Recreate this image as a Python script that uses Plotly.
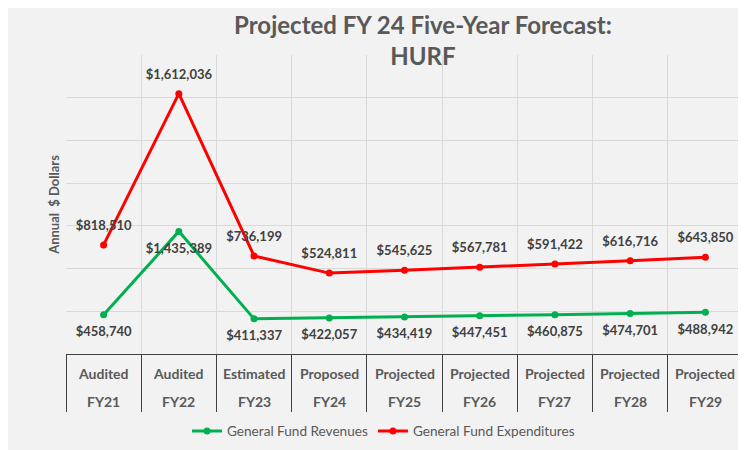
import plotly.graph_objects as go

# ---- data ----
fiscal_years = ["FY21", "FY22", "FY23", "FY24", "FY25", "FY26", "FY27", "FY28", "FY29"]
year_types = ["Audited", "Audited", "Estimated", "Proposed", "Projected",
              "Projected", "Projected", "Projected", "Projected"]
revenues = [458740, 1435389, 411337, 422057, 434419, 447451, 460875, 474701, 488942]
expenditures = [818510, 1612036, 736199, 524811, 545625, 567781, 591422, 616716, 643850]

FONT = "Lato"
GRAY = "#595959"
LABEL = "#404040"
GREEN = "#00B050"
RED = "#FF0000"

fig = go.Figure()
# stacked lines (Excel "stacked line" chart)
for name, vals, col in [("General Fund Revenues", revenues, GREEN),
                        ("General Fund Expenditures", expenditures, RED)]:
    fig.add_trace(go.Scatter(
        x=fiscal_years, y=vals, name=name, mode="lines+markers",
        stackgroup="lines", fill="none",
        line=dict(color=col, width=3), marker=dict(size=7, color=col),
    ))
# data labels: same stacking, invisible larger markers give the label offset
for vals, pos in [(revenues, "bottom center"), (expenditures, "top center")]:
    fig.add_trace(go.Scatter(
        x=fiscal_years, y=vals, mode="markers+text", stackgroup="labels", fill="none",
        marker=dict(size=17, color="rgba(0,0,0,0)"), showlegend=False, hoverinfo="skip",
        text=[f"${v:,}" for v in vals], textposition=pos,
        textfont=dict(family=FONT, size=13, color=LABEL, weight="bold"),
    ))

# two-row category labels under the axis
for fy, tp in zip(fiscal_years, year_types):
    fig.add_annotation(x=fy, y=0, xref="x", yref="paper", text=tp, showarrow=False,
                       yanchor="middle", yshift=-19,
                       font=dict(family=FONT, size=14, color=GRAY, weight="bold"))
    fig.add_annotation(x=fy, y=0, xref="x", yref="paper", text=fy, showarrow=False,
                       yanchor="middle", yshift=-47,
                       font=dict(family=FONT, size=14, color=GRAY, weight="bold"))

fig.update_layout(
    width=738, height=442,
    margin=dict(l=58, r=2.5, t=47, b=96.3),
    paper_bgcolor="#F2F2F2", plot_bgcolor="#F2F2F2",
    font=dict(family=FONT, color=GRAY),
    title=dict(text="Projected FY 24 Five-Year Forecast:<br>HURF",
               x=0.5623, xref="container", xanchor="center",
               y=0.9412, yref="container", yanchor="top",
               font=dict(family=FONT, size=24, color=GRAY, weight="bold")),
    showlegend=True,
    legend=dict(orientation="h", x=0.469, xanchor="center", y=-0.258, yanchor="middle",
                bgcolor="rgba(0,0,0,0)", font=dict(family=FONT, size=13.6, color=GRAY)),
    xaxis=dict(type="category", tickson="boundaries", ticks="outside", ticklen=57,
               tickcolor="#404040", tickwidth=1, showticklabels=False,
               showgrid=True, gridcolor="#D9D9D9", gridwidth=1,
               showline=True, linecolor="#404040", linewidth=1,
               range=[-0.5, 8.5], zeroline=False),
    yaxis=dict(range=[0, 3500000], dtick=500000, showticklabels=False,
               showgrid=True, gridcolor="#D9D9D9", gridwidth=1, zeroline=False,
               title=dict(text="Annual\u00a0 $ Dollars", standoff=2,
                          font=dict(family=FONT, size=13, color=GRAY, weight="bold"))),
)

fig.write_html("out.html")
